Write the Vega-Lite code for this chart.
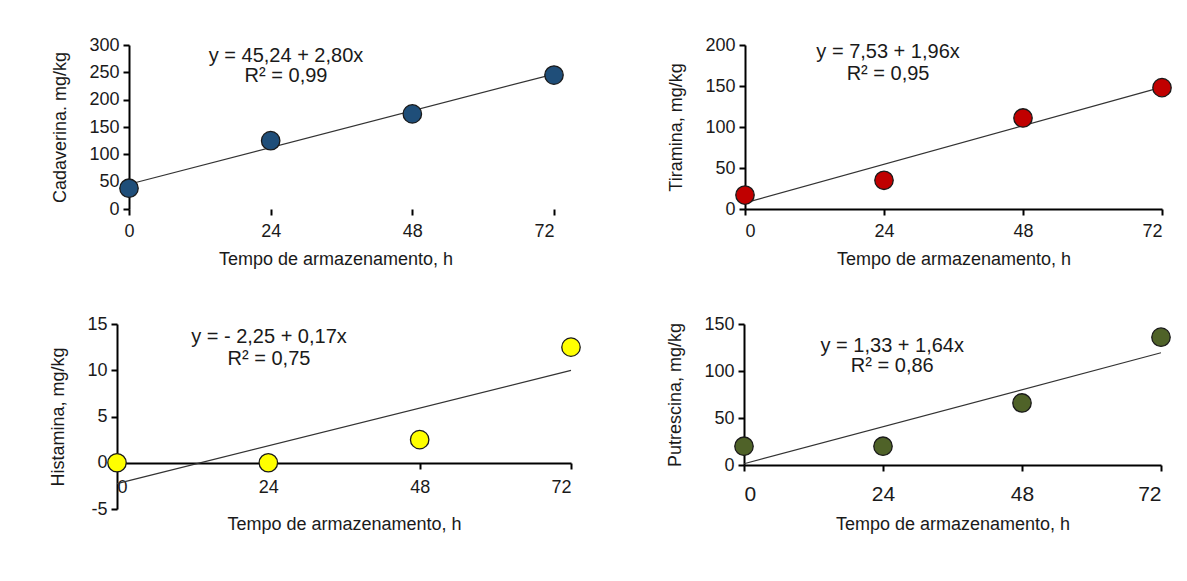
{
  "$schema": "https://vega.github.io/schema/vega-lite/v6.json",
  "background": "white",
  "padding": {"left": 49, "top": 36, "right": 5, "bottom": 5},
  "datasets": {
    "pts": [
      {"amina": "Cadaverina", "tempo": 0, "valor": 38},
      {"amina": "Cadaverina", "tempo": 24, "valor": 125},
      {"amina": "Cadaverina", "tempo": 48, "valor": 174},
      {"amina": "Cadaverina", "tempo": 72, "valor": 245},
      {"amina": "Tiramina", "tempo": 0, "valor": 17},
      {"amina": "Tiramina", "tempo": 24, "valor": 35},
      {"amina": "Tiramina", "tempo": 48, "valor": 111},
      {"amina": "Tiramina", "tempo": 72, "valor": 148},
      {"amina": "Histamina", "tempo": 0, "valor": 0},
      {"amina": "Histamina", "tempo": 24, "valor": 0},
      {"amina": "Histamina", "tempo": 48, "valor": 2.5},
      {"amina": "Histamina", "tempo": 72, "valor": 12.5},
      {"amina": "Putrescina", "tempo": 0, "valor": 20},
      {"amina": "Putrescina", "tempo": 24, "valor": 20},
      {"amina": "Putrescina", "tempo": 48, "valor": 66},
      {"amina": "Putrescina", "tempo": 72, "valor": 136}
    ],
    "fit": [
      {"amina": "Cadaverina", "tempo": 0, "valor": 45.24},
      {"amina": "Cadaverina", "tempo": 72, "valor": 246.84},
      {"amina": "Tiramina", "tempo": 0, "valor": 7.53},
      {"amina": "Tiramina", "tempo": 72, "valor": 148.65},
      {"amina": "Histamina", "tempo": 0, "valor": -2.25},
      {"amina": "Histamina", "tempo": 72, "valor": 9.99},
      {"amina": "Putrescina", "tempo": 0, "valor": 1.33},
      {"amina": "Putrescina", "tempo": 72, "valor": 119.41}
    ],
    "eq": [
      {"amina": "Cadaverina", "tempo": 26.6, "valor": 280, "texto": "y = 45,24 + 2,80x"},
      {"amina": "Cadaverina", "tempo": 26.6, "valor": 243, "texto": "R² = 0,99"},
      {"amina": "Tiramina", "tempo": 24.7, "valor": 191, "texto": "y = 7,53 + 1,96x"},
      {"amina": "Tiramina", "tempo": 24.7, "valor": 165, "texto": "R² = 0,95"},
      {"amina": "Histamina", "tempo": 24.1, "valor": 13.6, "texto": "y = - 2,25 + 0,17x"},
      {"amina": "Histamina", "tempo": 24.1, "valor": 11.2, "texto": "R² = 0,75"},
      {"amina": "Putrescina", "tempo": 25.6, "valor": 127, "texto": "y = 1,33 + 1,64x"},
      {"amina": "Putrescina", "tempo": 25.6, "valor": 105, "texto": "R² = 0,86"}
    ]
  },
  "config": {
    "font": "Liberation Sans",
    "view": {"stroke": null},
    "axis": {
      "grid": false,
      "labelOverlap": false,
      "domainColor": "#000000",
      "domainWidth": 2,
      "tickColor": "#000000",
      "tickWidth": 2,
      "tickSize": 6,
      "labelColor": "#1a1a1a",
      "labelFontSize": 18,
      "titleColor": "#1a1a1a",
      "titleFontSize": 18,
      "titleFontWeight": "normal"
    },
    "axisX": {"labelPadding": 7, "titlePadding": 10},
    "axisY": {"labelPadding": 4, "titlePadding": 19},
    "text": {"font": "Liberation Sans", "fontSize": 20, "color": "#1a1a1a"}
  },
  "spacing": 47,
  "vconcat": [
    {
      "spacing": 101,
      "hconcat": [
        {
          "width": 437, "height": 164,
          "layer": [
            {"mark": {"type": "rule", "color": "#000000", "strokeWidth": 2},
             "encoding": {"x": {"datum": 0, "type": "quantitative", "scale": {"domain": [-2.033, 72], "nice": false, "zero": false}, "axis": {"values": [0, 24, 48, 72], "domain": false, "title": "Tempo de armazenamento, h"}},
                          "x2": {"datum": 72},
                          "y": {"datum": 0, "type": "quantitative", "scale": {"domain": [0, 300], "nice": false}, "axis": {"values": [0, 50, 100, 150, 200, 250, 300], "tickCount": 7, "labelOverlap": false, "offset": -12, "title": "Cadaverina. mg/kg"}}}},
            {"data": {"name": "fit"}, "transform": [{"filter": "datum.amina == 'Cadaverina'"}], "mark": {"type": "line", "color": "#333333", "strokeWidth": 1.2},
             "encoding": {"x": {"field": "tempo", "type": "quantitative"}, "y": {"field": "valor", "type": "quantitative"}}},
            {"data": {"name": "pts"}, "transform": [{"filter": "datum.amina == 'Cadaverina'"}], "mark": {"type": "point", "shape": "circle", "filled": true, "size": 340, "fill": "#1F4E79", "stroke": "#1a1a1a", "strokeWidth": 1.3, "opacity": 1},
             "encoding": {"x": {"field": "tempo", "type": "quantitative"}, "y": {"field": "valor", "type": "quantitative"}}},
            {"data": {"name": "eq"}, "transform": [{"filter": "datum.amina == 'Cadaverina'"}], "mark": {"type": "text", "align": "center", "baseline": "middle"},
             "encoding": {"x": {"field": "tempo", "type": "quantitative"}, "y": {"field": "valor", "type": "quantitative"}, "text": {"field": "texto"}}}
          ]
        },
        {
          "width": 417, "height": 164,
          "layer": [
            {"data": {"name": "fit"}, "transform": [{"filter": "datum.amina == 'Tiramina'"}], "mark": {"type": "line", "color": "#333333", "strokeWidth": 1.2},
             "encoding": {"x": {"field": "tempo", "type": "quantitative", "scale": {"domain": [0, 72], "nice": false}, "axis": {"values": [0, 24, 48, 72], "title": "Tempo de armazenamento, h"}},
                          "y": {"field": "valor", "type": "quantitative", "scale": {"domain": [0, 200], "nice": false}, "axis": {"values": [0, 50, 100, 150, 200], "labelOverlap": false, "title": "Tiramina, mg/kg"}}}},
            {"data": {"name": "pts"}, "transform": [{"filter": "datum.amina == 'Tiramina'"}], "mark": {"type": "point", "shape": "circle", "filled": true, "size": 340, "fill": "#C00000", "stroke": "#1a1a1a", "strokeWidth": 1.3, "opacity": 1},
             "encoding": {"x": {"field": "tempo", "type": "quantitative"}, "y": {"field": "valor", "type": "quantitative"}}},
            {"data": {"name": "eq"}, "transform": [{"filter": "datum.amina == 'Tiramina'"}], "mark": {"type": "text", "align": "center", "baseline": "middle"},
             "encoding": {"x": {"field": "tempo", "type": "quantitative"}, "y": {"field": "valor", "type": "quantitative"}, "text": {"field": "texto"}}}
          ]
        }
      ]
    },
    {
      "spacing": 83,
      "hconcat": [
        {
          "width": 454, "height": 185,
          "layer": [
            {"data": {"name": "fit"}, "transform": [{"filter": "datum.amina == 'Histamina'"}], "mark": {"type": "line", "color": "#333333", "strokeWidth": 1.2},
             "encoding": {"x": {"field": "tempo", "type": "quantitative", "scale": {"domain": [0, 72], "nice": false}, "axis": {"values": [0, 24, 48, 72], "title": "Tempo de armazenamento, h", "offset": -46, "labelPadding": 9, "titlePadding": 19}},
                          "y": {"field": "valor", "type": "quantitative", "scale": {"domain": [-5, 15], "nice": false}, "axis": {"values": [-5, 0, 5, 10, 15], "labelOverlap": false, "title": "Histamina, mg/kg", "labelExpr": "'' + datum.value"}}}},
            {"data": {"name": "pts"}, "transform": [{"filter": "datum.amina == 'Histamina'"}], "mark": {"type": "point", "shape": "circle", "filled": true, "size": 340, "fill": "#FFFF00", "stroke": "#1a1a1a", "strokeWidth": 1.3, "opacity": 1},
             "encoding": {"x": {"field": "tempo", "type": "quantitative"}, "y": {"field": "valor", "type": "quantitative"}}},
            {"data": {"name": "eq"}, "transform": [{"filter": "datum.amina == 'Histamina'"}], "mark": {"type": "text", "align": "center", "baseline": "middle"},
             "encoding": {"x": {"field": "tempo", "type": "quantitative"}, "y": {"field": "valor", "type": "quantitative"}, "text": {"field": "texto"}}}
          ]
        },
        {
          "width": 417, "height": 141,
          "layer": [
            {"data": {"name": "fit"}, "transform": [{"filter": "datum.amina == 'Putrescina'"}], "mark": {"type": "line", "color": "#333333", "strokeWidth": 1.2},
             "encoding": {"x": {"field": "tempo", "type": "quantitative", "scale": {"domain": [0, 72], "nice": false}, "axis": {"values": [0, 24, 48, 72], "title": "Tempo de armazenamento, h", "labelFontSize": 21, "labelPadding": 12, "titlePadding": 11}},
                          "y": {"field": "valor", "type": "quantitative", "scale": {"domain": [0, 150], "nice": false}, "axis": {"values": [0, 50, 100, 150], "labelOverlap": false, "title": "Putrescina, mg/kg"}}}},
            {"data": {"name": "pts"}, "transform": [{"filter": "datum.amina == 'Putrescina'"}], "mark": {"type": "point", "shape": "circle", "filled": true, "size": 340, "fill": "#4F6228", "stroke": "#1a1a1a", "strokeWidth": 1.3, "opacity": 1},
             "encoding": {"x": {"field": "tempo", "type": "quantitative"}, "y": {"field": "valor", "type": "quantitative"}}},
            {"data": {"name": "eq"}, "transform": [{"filter": "datum.amina == 'Putrescina'"}], "mark": {"type": "text", "align": "center", "baseline": "middle"},
             "encoding": {"x": {"field": "tempo", "type": "quantitative"}, "y": {"field": "valor", "type": "quantitative"}, "text": {"field": "texto"}}}
          ]
        }
      ]
    }
  ]
}
